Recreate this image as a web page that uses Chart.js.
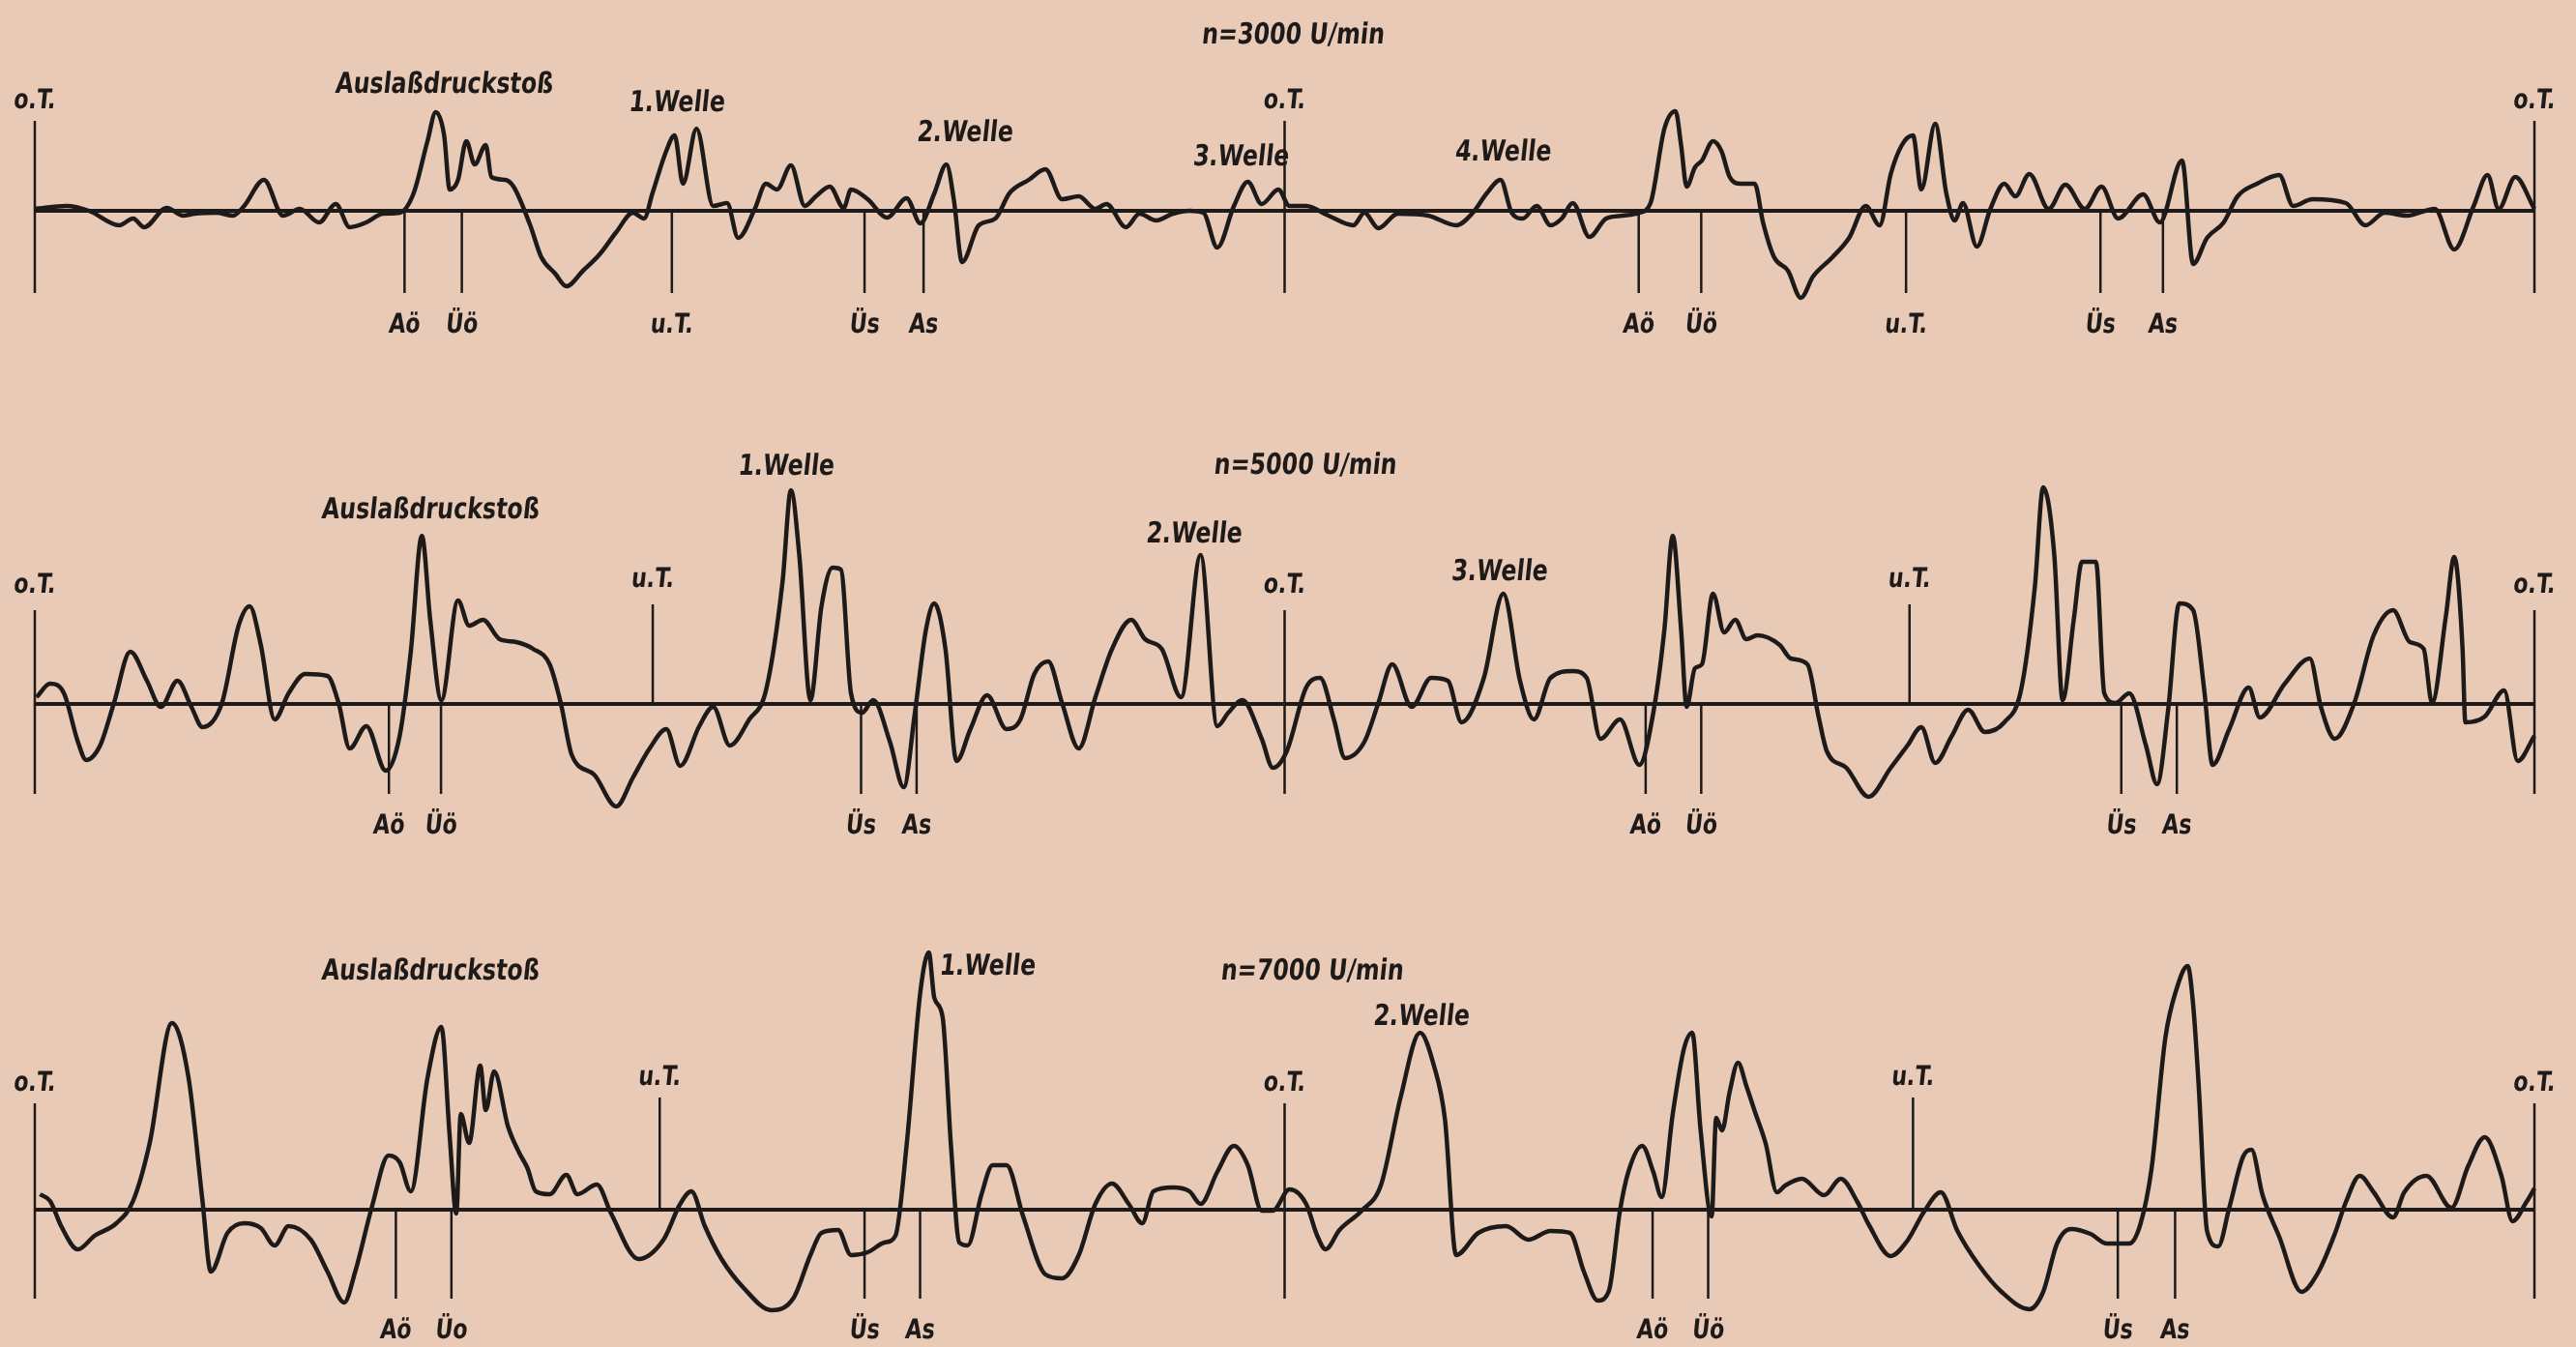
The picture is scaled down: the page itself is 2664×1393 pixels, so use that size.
<!DOCTYPE html>
<html lang="de">
<head>
<meta charset="utf-8">
<title>Druckverlauf im Auspuff</title>
<script src="https://cdn.jsdelivr.net/npm/chart.js@4.4.1/dist/chart.umd.min.js"></script>
<style>
  html, body { margin: 0; padding: 0; background: #e8cab6; }
  body { width: 2664px; height: 1393px; position: relative; overflow: hidden; }
  canvas { position: absolute; left: 0; }
</style>
</head>
<body>
<canvas id="c3000" width="2664" height="400" style="top:0px"></canvas>
<canvas id="c5000" width="2664" height="500" style="top:400px"></canvas>
<canvas id="c7000" width="2664" height="493" style="top:900px"></canvas>
<script>
// crank angle in degrees (0 = o.T.), pressure in arbitrary units (0 = baseline)

const deg3000 = [0, 9.2, 15.6, 24.3, 28.3, 31.5, 38, 42.7, 46, 52.3, 57.1, 60.3, 66, 71.5, 76.3, 81.9, 86.7, 90.7, 95.5, 100.3,
  105.1, 109.1, 113.1, 115.5, 117.9, 119.5, 121.9, 124.3, 126.7, 129.9, 131.5, 135.5, 137.9, 142.7, 145.9, 149.9, 153.1, 157.9, 162.7, 167.5,
  172.3, 175.5, 177.9, 181.9, 184.3, 186.7, 190.6, 195.4, 199.4, 202.6, 207.4, 210.6, 213.8, 217.8, 221.8, 225, 229, 233,
  235.1, 239.9, 245.5, 251.1, 255.1, 259.1, 262.6, 264.7, 267.1, 271.9, 276.7, 280.7, 286.3, 291.1, 295.9, 300.7, 305.5, 308.7, 314.3, 318.2,
  323, 327.8, 332.6, 336.6, 340.6, 345.4, 349.4, 353.4, 358.2, 361.4, 366.2, 372.6, 379.8, 383, 387, 392.6, 401.4, 409.4, 414.2, 418.2,
  422.2, 425.4, 428.6, 432.6, 436.6, 439.8, 443, 447.8, 452.6, 457.4, 462.2, 465.4, 469.4, 472.6, 474.2, 475.8, 478.2,
  480.2, 483.4, 485.8, 488.2, 491.4, 495.4, 497.8, 501, 505, 508.7, 512.2, 517.8, 522.6, 527.4, 531.4, 534.6, 537.8, 541, 543.4, 547.4,
  550.6, 553, 555.4, 559.4, 563.3, 567.3, 570.5, 574.5, 580.1, 584.9, 590.5, 595.3, 600.1, 607.3, 612.1, 618.5, 621.7, 625.7, 630.5, 634.5,
  640.1, 646.5, 650.5, 656.1, 665.7, 671.3, 676.9, 683.3, 691.3, 696.9, 702.5, 706.5, 709.7, 714.5, 720];
const p3000 = [2, 5, 0, -15, -8, -17, 3, -5, -3, -2, -5, 5, 32, -5, 2, -12, 7, -17, -12, -3,
  -2, 18, 72, 102, 78, 22, 32, 72, 48, 68, 35, 32, 25, -15, -48, -65, -78, -62, -45, -22,
  -2, -8, 18, 62, 78, 28, 85, 5, 8, -28, 2, 28, 22, 47, 5, 15, 25, 3,
  22, 12, -7, 13, -13, 18, 48, 12, -53, -15, -8, 18, 32, 43, 12, 15, 2, 7, -17, -3,
  -10, -3, 0, -2, -38, 5, 30, 7, 22, 5, 5, -5, -15, -2, -18, -3, -5, -15, -2, 18,
  32, -2, -8, 5, -15, -8, 8, -27, -8, -5, -2, 8, 85, 103, 68, 25, 45,
  52, 72, 62, 35, 28, 28, -12, -48, -62, -90, -68, -48, -28, 5, -15, 38, 68, 78, 22, 90,
  18, -10, 8, -37, 2, 28, 15, 38, 2, 27, 2, 25, -8, 17, -12, 52, -55, -28, -12, 15,
  28, 37, 5, 12, 8, -15, -2, -5, 2, -40, 5, 37, 2, 35, 2];

const deg5000 = [0.5, 4.4, 8.4, 12.4, 14.8, 18.8, 22.8, 27.5, 32.3, 36.3, 41.1, 45.1, 48.3, 53.9, 58.7, 61.9, 65.1, 69.1, 73.1, 77.9,
  84.3, 87.5, 90.7, 95.5, 101.1, 105.1, 108.3, 111.5, 113.9, 117.1, 121.9, 125.1, 129.1, 133.9, 138.7, 143.5, 148.3, 151.5, 154.7, 161.1,
  167.5, 172.3, 177.1, 181.9, 185.9, 191.4, 195.4, 200.2, 205.8, 210.6, 215.4, 217.8, 220.2, 223.4, 226.6, 229.8, 232.2,
  235.1, 238.3, 241.5, 246.3, 250.3, 253.5, 256.7, 259.1, 262.3, 265.5, 269.5, 274.3, 279.9, 283.9, 287.9, 291.9, 295.9, 300.7, 305.5, 310.3,
  315.8, 319.8, 324.6, 330.2, 335.8, 340.6, 343.8, 347.8, 353.4, 356.6, 360.6, 366.2, 370.2, 374.2, 377.4, 383, 387, 391, 396.6, 402.2,
  407, 411, 417.4, 423, 427.8, 431.8, 436.6, 443, 447, 451, 456.6, 462.2, 466.2, 469.4, 471.8, 474.2, 475.8, 478.2,
  480.2, 483.4, 486.6, 489.8, 493, 496.2, 502.6, 505.8, 510.6, 513.8, 516.2, 521.8, 528.2, 534.6, 539.4, 543.4, 547.4, 552.2, 556.9, 561.7,
  567.3, 572.1, 576.1, 578.5, 581.7, 584.1, 587.3, 589.7, 593.7, 596.1, 599.3, 603.3, 608.1, 611.3, 614.5, 617.7, 621.7, 624.9, 627.3, 632.1,
  637.7, 640.9, 648.1, 655.3, 658.5, 662.5, 668.1, 673.7, 679.3, 684.1, 688.1, 690.5, 694.5, 696.9, 699.3, 700.1, 705.7, 711.3, 715.2, 720];
const p5000 = [7, 21, 11, -39, -58, -43, 1, 54, 24, -3, 24, -3, -24, 1, 81, 101, 61, -16, 11, 31,
  29, 1, -46, -23, -69, -33, 54, 174, 87, 4, 107, 81, 87, 67, 64, 57, 41, 1, -53, -73,
  -106, -76, -46, -26, -64, -23, -3, -43, -16, 14, 127, 221, 154, 4, 101, 141, 139,
  11, -9, 4, -39, -86, -9, 77, 104, 57, -59, -26, 9, -26, -16, 31, 44, 1, -46, 7, 57,
  87, 67, 57, 7, 154, -23, -9, 4, -36, -66, -49, 17, 27, -16, -56, -39, 1, 41, -3, 27,
  24, -19, 27, 114, 24, -16, 27, 34, 27, -36, -16, -63, -9, 77, 174, 77, -3, 37,
  41, 114, 74, 87, 67, 71, 61, 47, 41, -13, -49, -66, -96, -66, -43, -24, -61, -33, -6, -29,
  -19, 14, 121, 224, 154, 4, 87, 147, 147, 11, 1, 11, -43, -83, -6, 104, 97, 14, -63, -26,
  17, -14, 21, 47, -3, -36, 1, 71, 97, 64, 57, 1, 91, 152, 57, -19, -13, 14, -59, -33];

const deg7000 = [1.5, 4.4, 7.6, 12.4, 17.2, 23.5, 28.3, 33.1, 39.5, 44.3, 48.3, 50.7, 55.5, 60.3, 65.1, 69.1, 73.1, 79.5, 84.3, 89.1,
  92.3, 97.1, 101.9, 105.1, 108.3, 113.1, 117.1, 119.5, 121.4, 122.7, 125.1, 128.3, 129.9, 132.3, 136.3, 139.5, 141.9, 144.3, 148.3, 153.1,
  156.3, 161.9, 166, 173.9, 181.1, 185.9, 189.1, 193, 197.8, 204.2, 212.2, 218.6, 223.4, 226.6, 231.4,
  235.1, 239.9, 244.7, 247.9, 251.1, 255.1, 257.5, 259.1, 261.5, 263.9, 266.3, 268.7, 272.7, 275.9, 279.9, 284.7, 291.1, 295.9, 300.7, 305.5,
  310.3, 315.1, 319, 322.2, 327.8, 332.6, 335.8, 340.6, 345.4, 349.4, 353.4, 356.6, 361.4, 366.2, 369.4, 371.8, 375.8, 382.2, 387.8, 393.4,
  399, 403, 406.2, 409.4, 415.8, 423.8, 430.2, 436.6, 442.2, 446.2, 450.2, 453.4, 456.6, 459, 463, 466.2, 468.6, 471.8, 475, 477.4,
  479.8, 483, 484.3, 486, 488.2, 490.6, 493, 495.4, 498.6, 501.8, 504.2, 509, 515.4, 520.2, 525, 528.2, 534.6, 539.4, 544.2, 549,
  553.8, 560.1, 566.5, 574.5, 578.5, 582.5, 586.5, 592.1, 596.9, 603.3, 606.5, 609.7, 613.7, 616.9, 620.1, 621.7, 623.3, 625.7, 628.9, 632.1,
  636.1, 638.5, 641.7, 646.5, 652.9, 657.7, 662.5, 665.7, 669.7, 673.7, 679.3, 682.5, 688.9, 696.1, 700.9, 705.7, 710.5, 713.7, 717.7, 720];
const p7000 = [16, 9, -17, -41, -27, -14, 9, 69, 193, 136, 9, -64, -24, -14, -19, -37, -17, -31, -64, -96,
  -64, 3, 56, 49, 19, 136, 189, 76, -4, 99, 69, 149, 103, 143, 86, 59, 43, 19, 16, 36,
  16, 26, -4, -51, -31, 6, 19, -17, -51, -81, -104, -91, -47, -24, -21,
  -47, -44, -34, -27, 66, 226, 266, 219, 199, 66, -34, -37, 16, 46, 46, -7, -67, -71, -47, 6,
  27, 6, -14, 19, 23, 19, 6, 39, 66, 46, -1, -1, 21, 6, -27, -41, -21, -1, 26, 116,
  183, 149, 93, -47, -24, -17, -31, -22, -24, -64, -94, -84, -1, 39, 66, 39, 13, 99, 166, 183,
  83, -7, 95, 82, 122, 152, 128, 102, 68, 18, 25, 32, 15, 32, 8, -15, -48, -32, -2, 18,
  -22, -58, -85, -103, -85, -35, -20, -25, -35, -35, -15, 42, 178, 228, 252, 212, 128, -22, -38, 2,
  55, 62, 15, -28, -85, -65, -25, 8, 35, 18, -8, 18, 35, 2, 45, 75, 35, -12, 8, 22];

// timing marks
const marks = ["o.T.", "Aö", "Üö", "u.T.", "Üs", "As", "o.T.", "Aö", "Üö", "u.T.", "Üs", "As", "o.T."];
const marks7000 = ["o.T.", "Aö", "Üo", "u.T.", "Üs", "As", "o.T.", "Aö", "Üö", "u.T.", "Üs", "As", "o.T."];
const markDeg3000 = [0, 106.5, 123, 183.5, 239, 256, 360, 462, 480, 539, 595, 613, 720];
const markDeg5000 = [0, 102, 117, 178, 238, 254, 360, 464, 480, 540, 601, 617, 720];
const markDeg7000 = [0, 104, 120, 180, 239, 255, 360, 466, 482, 541, 600, 616.5, 720];

// annotations
const notes3000 = ["n=3000 U/min", "Auslaßdruckstoß", "1.Welle", "2.Welle", "3.Welle", "4.Welle"];
const noteDeg3000 = [362.5, 118, 185, 268, 347.5, 423];
const noteP3000 = [181, 130, 111, 80, 55, 60];
const notes5000 = ["n=5000 U/min", "Auslaßdruckstoß", "1.Welle", "2.Welle", "3.Welle"];
const noteDeg5000 = [366, 114, 216.5, 334, 422];
const noteP5000 = [246, 200, 245, 175, 136];
const notes7000 = ["n=7000 U/min", "Auslaßdruckstoß", "1.Welle", "2.Welle"];
const noteDeg7000 = [368, 114, 274.5, 399.5];
const noteP7000 = [246, 246, 251, 199];

const INK = "#1d1a19";
const FONT = '"DejaVu Sans Condensed", "DejaVu Sans", sans-serif';

const textPlugin = {
  id: "texts",
  afterDatasetsDraw(chart, args, opts) {
    const { ctx, scales: { x, y } } = chart;
    ctx.save();
    ctx.fillStyle = INK;
    ctx.textAlign = "center";
    ctx.textBaseline = "middle";
    opts.items.forEach(it => {
      ctx.save();
      ctx.font = it.font;
      ctx.translate(x.getPixelForValue(it.x), y.getPixelForValue(it.y));
      ctx.scale(0.88, 1);
      ctx.transform(1, 0, -0.12, 1, 0, 0);
      ctx.fillText(it.text, 0, 0);
      ctx.restore();
    });
    ctx.restore();
  }
};

function line(data, width) {
  return {
    data: data, borderColor: INK, borderWidth: width, pointRadius: 0,
    fill: false, tension: 0, clip: false
  };
}

function panel(id, deg, p, names, markDeg, notes, noteDeg, noteP, g) {
  const trace = deg.map((d, i) => ({ x: d, y: p[i] }));
  const sets = [
    Object.assign(line(trace, 4.5), { cubicInterpolationMode: "monotone" }),
    line([{ x: 0, y: 0 }, { x: 720, y: 0 }], 4)
  ];
  const items = [];
  names.forEach((n, i) => {
    const x = markDeg[i];
    let top = 0, bot = -g.down, labelY = -g.down - 34;
    if (n === "o.T.") { top = g.up; labelY = g.up + g.gapUp; }
    if (n === "u.T." && g.uUp) { top = g.uTop; bot = 0; labelY = g.uTop + g.gapUp; }
    sets.push(line([{ x: x, y: top }, { x: x, y: bot }], 2.5));
    items.push({ text: n, x: x, y: labelY, font: "bold 28px " + FONT });
  });
  notes.forEach((t, i) => items.push({ text: t, x: noteDeg[i], y: noteP[i], font: "bold 30px " + FONT }));

  new Chart(document.getElementById(id), {
    type: "line",
    data: { datasets: sets },
    options: {
      responsive: false,
      animation: false,
      events: [],
      layout: { padding: { left: 36, right: 43, top: 0, bottom: 0 } },
      scales: {
        x: { type: "linear", min: 0, max: 720, display: false },
        y: { min: g.min, max: g.max, display: false }
      },
      plugins: { legend: { display: false }, tooltip: { enabled: false }, texts: { items: items } }
    },
    plugins: [textPlugin]
  });
}

panel("c3000", deg3000, p3000, marks, markDeg3000, notes3000, noteDeg3000, noteP3000,
  { min: -182, max: 218, up: 93, down: 85, gapUp: 20, uUp: false });
panel("c5000", deg5000, p5000, marks, markDeg5000, notes5000, noteDeg5000, noteP5000,
  { min: -172, max: 328, up: 97, down: 93, gapUp: 25, uUp: true, uTop: 103 });
panel("c7000", deg7000, p7000, marks7000, markDeg7000, notes7000, noteDeg7000, noteP7000,
  { min: -142, max: 351, up: 110, down: 92, gapUp: 20, uUp: true, uTop: 116 });
</script>
</body>
</html>
